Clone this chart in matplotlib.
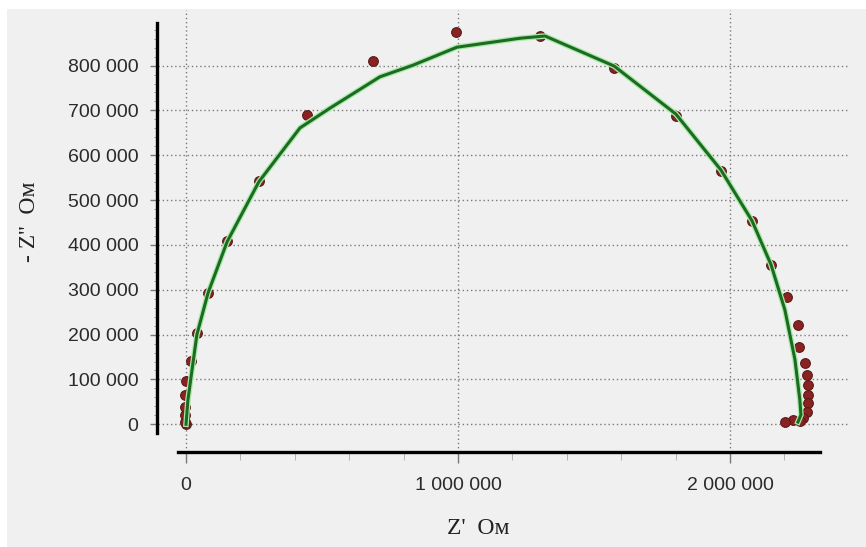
import numpy as np
import matplotlib.pyplot as plt
from matplotlib.ticker import FixedLocator, FuncFormatter
from matplotlib.patches import Rectangle
import matplotlib.patheffects as pe

# measured points (Z', -Z'')
z_re = [0, -3000, -3000, -5000, -3000, 0, 18000, 40000, 81000, 151000, 268000,
        445000, 687000, 993000, 1301000, 1574000, 1801000, 1967000, 2081000,
        2151000, 2210000, 2250000, 2254000, 2276000, 2283000, 2287000, 2287000,
        2287000, 2283000, 2268000, 2257000, 2232000, 2202000]
z_im = [0, 5000, 21000, 39000, 65000, 97000, 141000, 204000, 293000, 409000,
        543000, 690000, 810000, 874000, 867000, 795000, 688000, 565000, 454000,
        356000, 284000, 222000, 172000, 137000, 110000, 88000, 65000, 48000,
        27000, 14000, 7000, 10000, 5000]

# fitted curve
fit_re = [0, 7000, 22000, 40000, 81000, 151000, 268000, 419000, 529000, 713000,
          835000, 996000, 1228000, 1320000, 1574000, 1801000, 1967000, 2081000,
          2151000, 2202000, 2239000, 2257000, 2261000, 2250000]
fit_im = [0, 54000, 121000, 200000, 293000, 407000, 541000, 661000, 705000,
          775000, 801000, 841000, 861000, 866000, 799000, 692000, 567000,
          454000, 356000, 255000, 144000, 54000, 21000, 5000]

x_major = [0, 1000000, 2000000]
y_major = [0, 100000, 200000, 300000, 400000, 500000, 600000, 700000, 800000]

W, H = 866, 547
fig = plt.figure(figsize=(W / 100, H / 100), dpi=100, facecolor='white')
fig.patches.append(Rectangle((7 / W, 0), 1, 1 - 9 / H, transform=fig.transFigure,
                             facecolor='#f0f0f0', edgecolor='none', zorder=-10))

ax = fig.add_axes([158 / W, 1 - 452 / H, (848 - 158) / W, (452 - 10) / H])
ax.patch.set_alpha(0)

ax.plot(z_re, z_im, 'o', ms=7, color='#8a2222', mec='#5a1a1a', mew=0.8, zorder=3)
ax.plot(fit_re, fit_im, '-', color='#1d6b22', lw=2.2, zorder=4,
        path_effects=[pe.Stroke(linewidth=4, foreground='#a8eaa8'), pe.Normal()])

ax.set_xlim(-103000, 2434000)
ax.set_ylim(-61800, 924000)

for s in ['top', 'right']:
    ax.spines[s].set_visible(False)
ax.spines['left'].set_linewidth(2.4)
ax.spines['bottom'].set_linewidth(2.4)
ax.spines['left'].set_position(('outward', 1))
ax.spines['left'].set_bounds(-19400, 895000)
ax.spines['bottom'].set_bounds(-29400, 2331000)

ax.xaxis.set_major_locator(FixedLocator(x_major))
ax.xaxis.set_minor_locator(FixedLocator(np.arange(200000, 2300000, 200000)))
ax.yaxis.set_major_locator(FixedLocator(y_major))
ax.yaxis.set_minor_locator(FixedLocator(np.arange(0, 900000, 20000)))

fmt = FuncFormatter(lambda v, p: '{:,.0f}'.format(v).replace(',', ' '))
ax.xaxis.set_major_formatter(fmt)
ax.yaxis.set_major_formatter(fmt)

ax.tick_params(axis='both', which='major', color='#777777', labelcolor='#2a2a2a',
               labelsize=14, width=1)
ax.tick_params(axis='x', which='major', length=8, pad=10)
ax.tick_params(axis='y', which='major', length=5, pad=8)
ax.tick_params(axis='x', which='minor', length=6, color='#aaaaaa')
ax.tick_params(axis='y', which='minor', length=2, color='#888888')
for lab in ax.get_xticklabels() + ax.get_yticklabels():
    lab.set_family('Liberation Sans')

ax.grid(True, which='major', color='#7a7a7a', linestyle=(0, (1, 2)), lw=1)
ax.set_axisbelow(True)

fig.text(478 / W, 1 - 528 / H, "Z'  Ом", ha='center', va='center',
         family='Liberation Serif', fontsize=17, color='#222222')
fig.text(30 / W, 1 - 222 / H, "- Z''  Ом", ha='center', va='center', rotation=90,
         family='Liberation Serif', fontsize=17, color='#222222')

plt.savefig('out.png', dpi=100, facecolor=fig.get_facecolor())
